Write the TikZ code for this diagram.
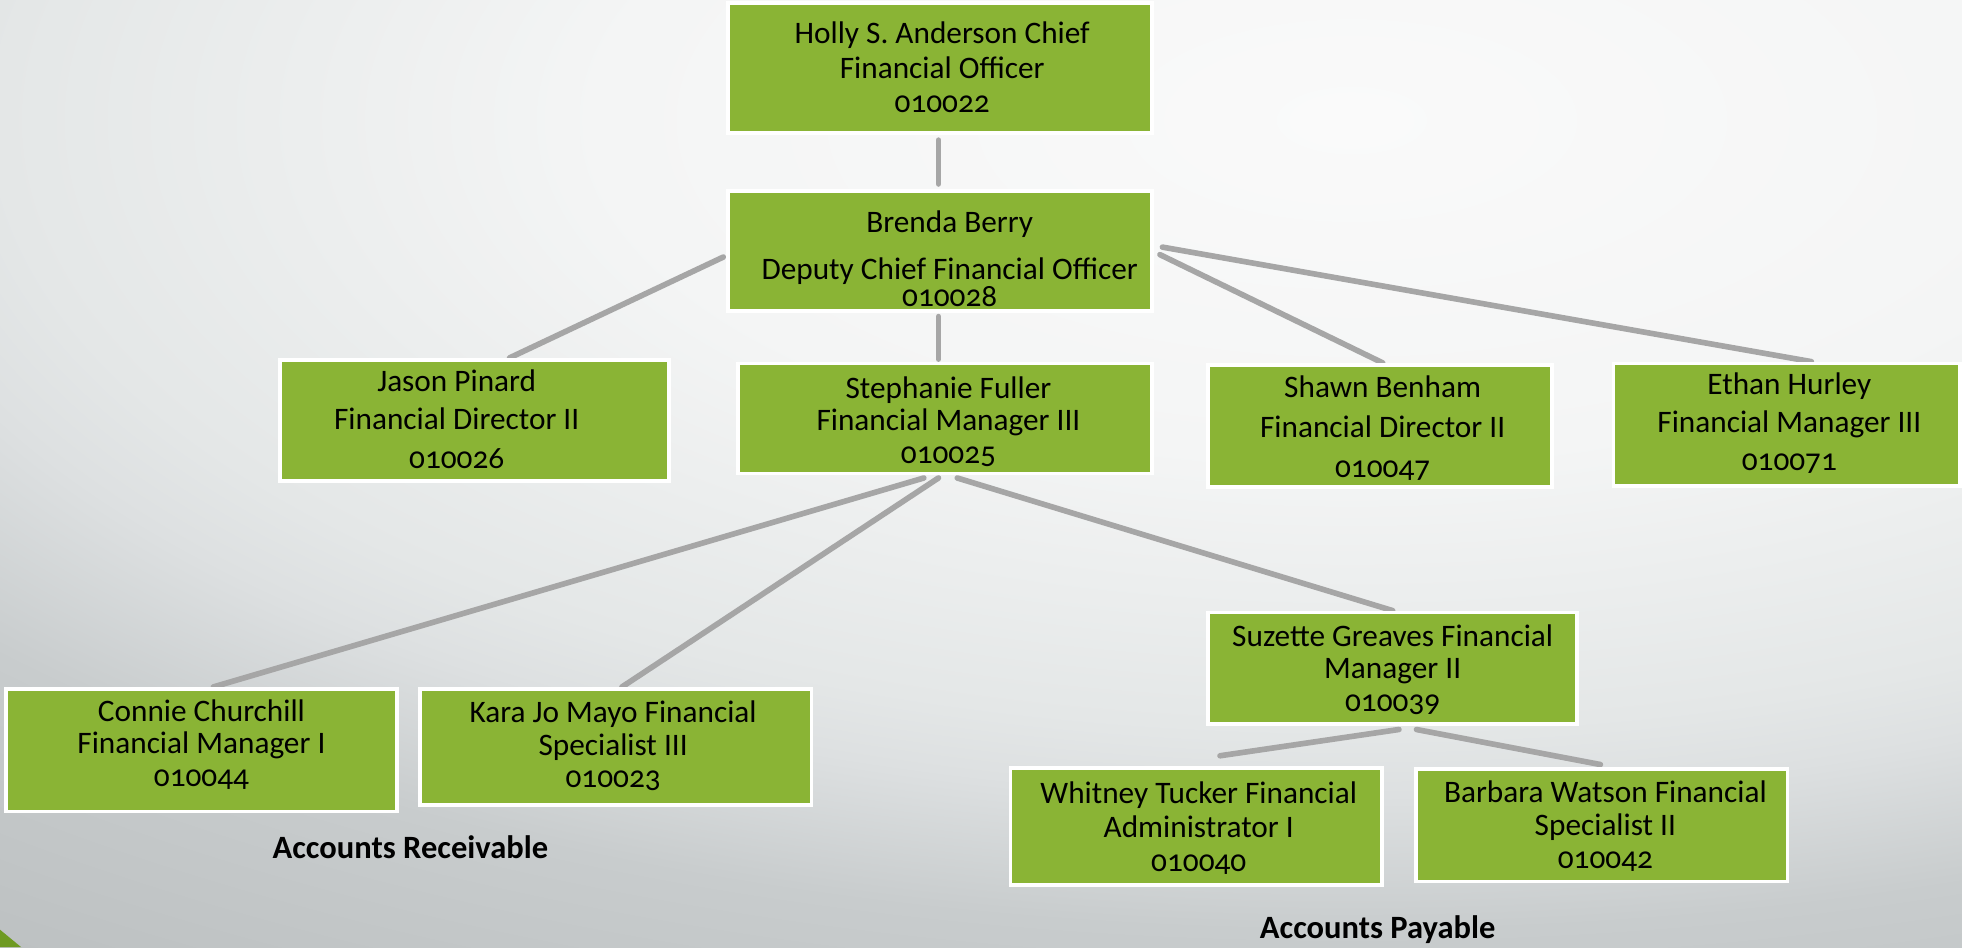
\documentclass[tikz,border=0pt]{standalone}
\usepackage{fontspec}
\setmainfont{Carlito}[Numbers=OldStyle]
\usetikzlibrary{calc}
\definecolor{boxgreen}{HTML}{8AB435}
\definecolor{linegray}{HTML}{A6A6A6}
\definecolor{trigreen}{HTML}{6E9A22}
\definecolor{bgA}{HTML}{FAFAFA}
\definecolor{bgB}{HTML}{F4F5F5}
\definecolor{bgC}{HTML}{E4E7E7}
\definecolor{bgD}{HTML}{DDE0E1}
\definecolor{bgE}{HTML}{C8CCCD}
\definecolor{bgF}{HTML}{C5C9CA}
\definecolor{bgG}{HTML}{B8BCBD}
\pgfdeclareradialshading{bgshade}{\pgfpoint{0bp}{0bp}}{color(0bp)=(bgA); color(7.5bp)=(bgB); color(13.5bp)=(bgC); color(15bp)=(bgD); color(18bp)=(bgE); color(19.25bp)=(bgF); color(25bp)=(bgG); color(50bp)=(bgG)}
\pgfdeclarelayer{back}
\pgfdeclarelayer{lines}
\pgfsetlayers{back,lines,main}
\begin{document}
\begin{tikzpicture}[x=1pt,y=-1pt,
  box/.style={draw=white, line width=3pt, fill=boxgreen, inner sep=0pt},
  txt/.style={align=center, inner sep=0pt, text=black, font=\fontsize{25}{#1}\selectfont},
  txt/.default=27,
  conn/.style={draw=linegray, line width=4.5pt, line cap=round},
  sect/.style={inner sep=0pt, text=black, font=\fontsize{26}{28}\selectfont\bfseries}]
\useasboundingbox (0,0) rectangle (1568,757);
\begin{pgfonlayer}{back}
  \begin{scope}
    \clip (0,0) rectangle (1568,757);
    \fill[bgF] (0,0) rectangle (1568,757);
    \begin{scope}[transform canvas={yscale=0.45}]
      \shade[shading=bgshade] (1080,213.33) circle [radius=2000pt];
    \end{scope}
  \end{scope}
  \fill[trigreen] (0,743) -- (17,757) -- (0,757) -- cycle;
\end{pgfonlayer}

% boxes
\node[box, minimum width=339, minimum height=104] (holly)   at (751,54.5) {};
\node[box, minimum width=339, minimum height=96]  (brenda)  at (751,200.5) {};
\node[box, minimum width=311, minimum height=97]  (jason)   at (379,336) {};
\node[box, minimum width=331, minimum height=88]  (steph)   at (755,334.5) {};
\node[box, minimum width=275, minimum height=98]  (shawn)   at (1103,340.5) {};
\node[box, minimum width=277, minimum height=98]  (ethan)   at (1428,339.5) {};
\node[box, minimum width=295, minimum height=89]  (suzette) at (1113,534) {};
\node[box, minimum width=313, minimum height=98]  (connie)  at (161,599.5) {};
\node[box, minimum width=313, minimum height=93]  (kara)    at (492,597) {};
\node[box, minimum width=297, minimum height=94]  (whitney) at (956,660.5) {};
\node[box, minimum width=297, minimum height=90]  (barbara) at (1280,659.5) {};

% texts
\node[txt=27.5] (hollyt) at (753,54) {Holly S. Anderson Chief\\Financial Officer\\010022};
\node[txt] (brendat) at (759,207) {Brenda Berry\\[10pt]Deputy Chief Financial Officer\\[-5pt]010028};
\node[txt=31] (jasont) at (365,335) {Jason Pinard\\Financial Director II\\010026};
\node[txt=26] (stepht) at (758,337) {Stephanie Fuller\\Financial Manager III\\010025};
\node[txt=32] (shawnt) at (1105,342) {Shawn Benham\\Financial Director II\\010047};
\node[txt=30.5] (ethant) at (1430,338) {Ethan Hurley\\Financial Manager III\\010071};
\node[txt=26] (suzettet) at (1113,535) {Suzette Greaves Financial\\Manager II\\010039};
\node[txt=26] (conniet) at (161,595) {Connie Churchill\\Financial Manager I\\010044};
\node[txt=26] (karat) at (490,596) {Kara Jo Mayo Financial\\Specialist III\\010023};
\node[txt=27] (whitneyt) at (958,662) {Whitney Tucker Financial\\Administrator I\\010040};
\node[txt=26.5] (barbarat) at (1283,660) {Barbara Watson Financial\\Specialist II\\010042};

\node[sect] (ar) at (328,677) {Accounts Receivable};
\node[sect] (ap) at (1101,743) {Accounts Payable};

\coordinate (wt) at ($(whitney.north)+(19,-8)$);

\begin{pgfonlayer}{lines}
  \draw[conn] ($(holly.south)+(-1,4)$) -- ($(brenda.north)+(-1,-4)$);
  \draw[conn] ($(brenda.north west)!0.55!(brenda.south west)+(-2,0)$) -- ($(jason.north west)!0.59!(jason.north east)$);
  \draw[conn] ($(brenda.south)+(-1,3)$) -- ($(steph.north)+(-5,-2)$);
  \draw[conn] ($(brenda.east)+(5,3)$) -- ($(shawn.north)+(2,0)$);
  \draw[conn] ($(brenda.east)+(7,-3)$) -- ($(ethan.north west)!0.57!(ethan.north east)$);
  \draw[conn] ($(steph.south west)!0.45!(steph.south east)+(0,2)$) -- ($(connie.north west)!0.53!(connie.north east)$);
  \draw[conn] ($(steph.south west)!0.485!(steph.south east)+(0,2)$) -- ($(kara.north west)!0.516!(kara.north east)$);
  \draw[conn] ($(steph.south west)!0.53!(steph.south east)+(0,2)$) -- (suzette.north);
  \draw[conn] ($(suzette.south)+(5,3)$) -- (wt);
  \draw[conn] ($(suzette.south)+(19,3)$) -- ($(barbara.north)+(-1,-2)$);
\end{pgfonlayer}
\end{tikzpicture}
\end{document}
